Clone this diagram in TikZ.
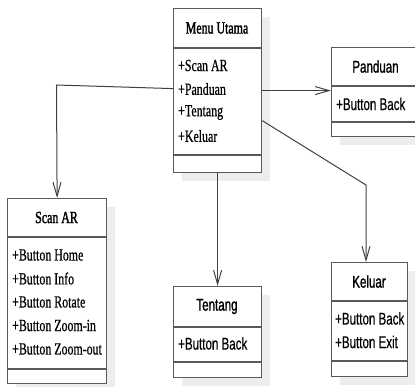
\documentclass[tikz,border=0pt]{standalone}
\usepackage{fontspec}
\usetikzlibrary{arrows.meta,shadows,calc}
\newfontfamily\umlserif{Liberation Serif}[FakeStretch=0.7,FakeBold=0.6]
\newfontfamily\umlsans{Liberation Sans}[FakeStretch=0.68,FakeBold=0.4]
\newfontfamily\umlserifh{Liberation Serif}[FakeStretch=0.7,FakeBold=1.6]
\newfontfamily\umlsansh{Liberation Sans}[FakeStretch=0.68,FakeBold=1.2]
\definecolor{boxc}{HTML}{5A5A5A}
\definecolor{linec}{HTML}{404040}
\definecolor{shadc}{HTML}{EDEDED}
\tikzset{
  umlbox/.style={draw=boxc, line width=1.2pt, fill=white, inner sep=0pt, anchor=north west,
    drop shadow={shadow xshift=8pt, shadow yshift=-8pt, fill=shadc, opacity=1}},
  sepline/.style={draw=boxc, line width=1.8pt},
  sertext/.style={font=\umlserif\fontsize{17}{20}\selectfont, inner sep=0pt, text=black},
  sanstext/.style={font=\umlsans\fontsize{17}{20}\selectfont, inner sep=0pt, text=black},
  serhead/.style={font=\umlserifh\fontsize{17}{20}\selectfont, inner sep=0pt, text=black},
  sanshead/.style={font=\umlsansh\fontsize{17}{20}\selectfont, inner sep=0pt, text=black},
  arr/.style={draw=linec, line width=1pt, -{Straight Barb[length=14pt,width=8pt]}}
}
\begin{document}
\begin{tikzpicture}[x=1pt,y=-1pt]
\useasboundingbox (0,0) rectangle (415,386);
\clip (0,0) rectangle (415,386);
% ---- Menu Utama
\node[umlbox, minimum width=88, minimum height=164] (menu) at (173,8) {};
\draw[sepline] (173,48) -- (261,48) (173,155) -- (261,155);
\node[serhead] (menuh) at (217,28) {Menu Utama};
\node[sertext, anchor=west] (m1) at (178,65.5) {+Scan AR};
\node[sertext, anchor=west] (m2) at (178,89) {+Panduan};
\node[sertext, anchor=west] (m3) at (178,112.5) {+Tentang};
\node[sertext, anchor=west] (m4) at (178,136) {+Keluar};
% ---- Panduan
\node[umlbox, minimum width=89, minimum height=89] (pand) at (331,47) {};
\draw[sepline] (331,86) -- (420,86) (331,122) -- (420,122);
\node[sanshead] (pandh) at (375.5,66.5) {Panduan};
\node[sanstext, anchor=west] (p1) at (336,104) {+Button Back};
% ---- Scan AR
\node[umlbox, minimum width=99, minimum height=185] (scan) at (7,198) {};
\draw[sepline] (7,237) -- (106,237) (7,369) -- (106,369);
\node[serhead] (scanh) at (56.5,217.5) {Scan AR};
\node[sertext, anchor=west] (s1) at (12,255) {+Button Home};
\node[sertext, anchor=west] (s2) at (12,278.5) {+Button Info};
\node[sertext, anchor=west] (s3) at (12,302) {+Button Rotate};
\node[sertext, anchor=west] (s4) at (12,325.5) {+Button Zoom-in};
\node[sertext, anchor=west] (s5) at (12,349) {+Button Zoom-out};
% ---- Tentang
\node[umlbox, minimum width=88, minimum height=91] (tent) at (173,286) {};
\draw[sepline] (173,327) -- (261,327) (173,362) -- (261,362);
\node[sanshead] (tenth) at (217,306.5) {Tentang};
\node[sanstext, anchor=west] (t1) at (178,343.5) {+Button Back};
% ---- Keluar
\node[umlbox, minimum width=76, minimum height=114] (kel) at (331,262) {};
\draw[sepline] (331,301) -- (407,301) (331,361) -- (407,361);
\node[sanshead] (kelh) at (369,281.5) {Keluar};
\node[sanstext, anchor=west] (k1) at (335,318.5) {+Button Back};
\node[sanstext, anchor=west] (k2) at (335,342) {+Button Exit};
% ---- connectors
\coordinate (b1) at (56.5,85);
\coordinate (b2) at (366,185);
\draw[arr] ([yshift=2pt]menu.west) -- (b1) -- (scan.north);
\draw[arr] (menu.east) -- (menu.east -| pand.west);
\draw[arr] (menu.south) -- (tent.north);
\draw[arr] ([yshift=-30pt]menu.east) -- (b2) -- (kel.north -| b2);
\end{tikzpicture}
\end{document}
